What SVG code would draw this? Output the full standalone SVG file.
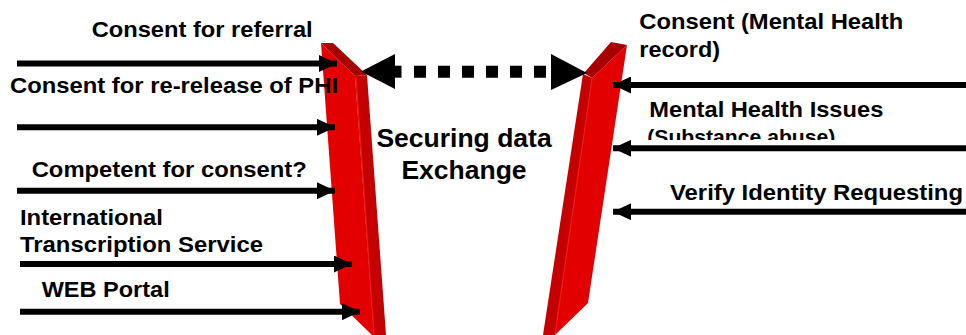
<svg xmlns="http://www.w3.org/2000/svg" width="966" height="335" viewBox="0 0 966 335">
<style>
text{font-family:"Liberation Sans",Arial,sans-serif;font-weight:bold;fill:#000}
.lbl{font-size:22px}
.mid{font-size:26.5px}
.small{font-size:20.5px}
.front{fill:#e30000}
.side{fill:#c40000}
.top{fill:#a80000}
.arr{stroke:#000;stroke-width:6;fill:none}
</style>
<defs>
<marker id="ah" viewBox="0 0 18 17" refX="18" refY="8.5" markerWidth="18" markerHeight="17" markerUnits="userSpaceOnUse" orient="auto">
<path d="M0,0 L18,8.5 L0,17 Z" fill="#000"/>
</marker>
<clipPath id="subClip"><rect x="640" y="120" width="220" height="20"/></clipPath>
</defs>
<g id="beam-left">
<polygon class="front" points="321,43 355,76 374,335 372,335 340,304"/>
<polygon class="side" points="355,76 367,75 386,335 374,335"/>
<polygon class="top" points="321,43 333,43 367,75 355,76"/>
<line x1="356" y1="77" x2="374" y2="334" stroke="#f01818" stroke-width="1.2"/>
</g>
<g id="beam-right">
<polygon class="side" points="583,74 592,78 555,335 543,335"/>
<polygon class="front" points="592,78 627,45 588,303 555,335"/>
<polygon class="top" points="611,42 627,45 592,78 584,73"/>
<line x1="592" y1="79" x2="555" y2="334" stroke="#f01818" stroke-width="1.2"/>
</g>
<g id="connectors">
<line class="arr" x1="17" y1="63.5" x2="337" y2="63.5" marker-end="url(#ah)"/>
<line class="arr" x1="17" y1="127.3" x2="335" y2="127.3" marker-end="url(#ah)"/>
<line class="arr" x1="17" y1="190.7" x2="335" y2="190.7" marker-end="url(#ah)"/>
<line class="arr" x1="20" y1="264" x2="352" y2="264" marker-end="url(#ah)"/>
<line class="arr" x1="20" y1="311.7" x2="360" y2="311.7" marker-end="url(#ah)"/>
<line class="arr" x1="966" y1="85" x2="613" y2="85" marker-end="url(#ah)"/>
<line class="arr" x1="966" y1="148.3" x2="613" y2="148.3" marker-end="url(#ah)"/>
<line class="arr" x1="966" y1="211.7" x2="613" y2="211.7" marker-end="url(#ah)"/>
<g id="exchange-arrow">
<polygon points="361,71.5 395,54 395,89" fill="#000"/>
<rect x="394" y="65.7" width="7.5" height="12" fill="#000"/>
<line x1="414" y1="71.7" x2="546" y2="71.7" stroke="#000" stroke-width="12" stroke-dasharray="12 12"/>
<polygon points="551,54 551,90 587,73" fill="#000"/>
</g>
</g>
<g id="label-consent-referral"><text class="lbl" x="91.7" y="37" textLength="221" lengthAdjust="spacingAndGlyphs">Consent for referral</text></g>
<g id="label-rerelease"><text class="lbl" x="10" y="93.3" textLength="328" lengthAdjust="spacingAndGlyphs">Consent for re-release of PHI</text></g>
<g id="label-competent"><text class="lbl" x="31.7" y="177.3" textLength="275" lengthAdjust="spacingAndGlyphs">Competent for consent?</text></g>
<g id="label-transcription">
<text class="lbl" x="20" y="225" textLength="143" lengthAdjust="spacingAndGlyphs">International</text>
<text class="lbl" x="20" y="251.7" textLength="243" lengthAdjust="spacingAndGlyphs">Transcription Service</text>
</g>
<g id="label-web"><text class="lbl" x="41.7" y="296.7" textLength="128" lengthAdjust="spacingAndGlyphs">WEB Portal</text></g>
<g id="label-securing">
<text class="mid" x="464" y="147.3" text-anchor="middle">Securing data</text>
<text class="mid" x="464" y="179.3" text-anchor="middle">Exchange</text>
</g>
<g id="label-consent-mh">
<text class="lbl" x="639.3" y="29" textLength="264" lengthAdjust="spacingAndGlyphs">Consent (Mental Health</text>
<text class="lbl" x="639.3" y="57" textLength="80.7" lengthAdjust="spacingAndGlyphs">record)</text>
</g>
<g id="label-mh-issues">
<text class="lbl" x="649.3" y="116.7" textLength="234" lengthAdjust="spacingAndGlyphs">Mental Health Issues</text>
<text class="small" x="647.3" y="144" textLength="188" lengthAdjust="spacingAndGlyphs" clip-path="url(#subClip)">(Substance abuse)</text>
</g>
<g id="label-verify"><text class="lbl" x="670" y="200" textLength="293" lengthAdjust="spacingAndGlyphs">Verify Identity Requesting</text></g>
</svg>
